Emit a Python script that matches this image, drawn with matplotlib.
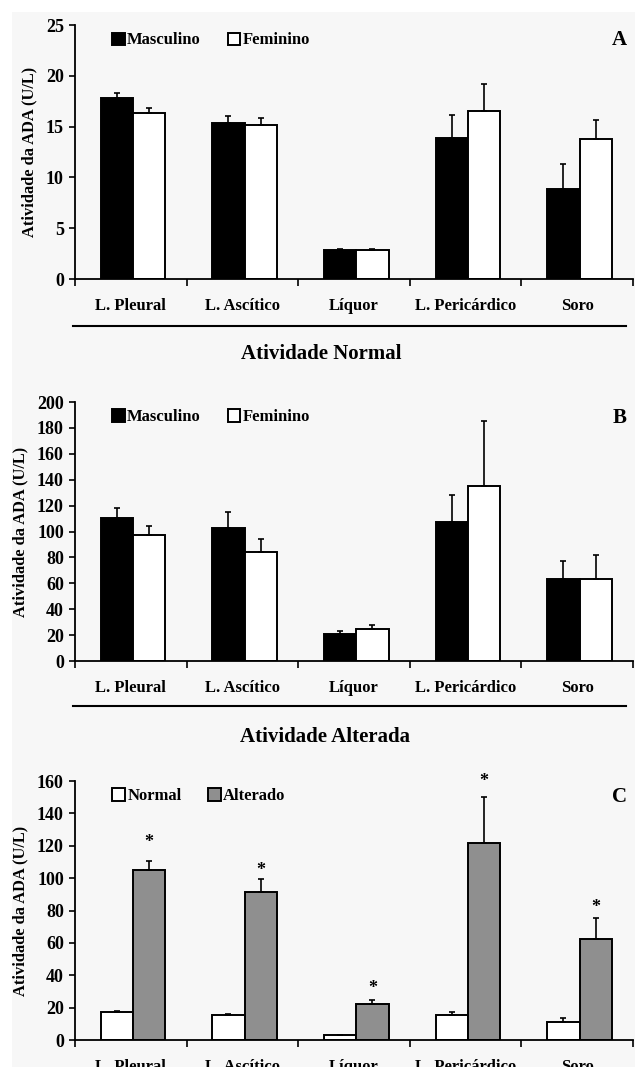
import numpy as np
import matplotlib
matplotlib.use('Agg')
import matplotlib.pyplot as plt
from matplotlib.lines import Line2D
from matplotlib.patches import Rectangle

plt.rcParams['font.family'] = ['Liberation Serif', 'DejaVu Serif']
plt.rcParams['font.weight'] = 'bold'

categories = ['L. Pleural', 'L. Ascítico', 'Líquor', 'L. Pericárdico', 'Soro']

# panel A - atividade normal por sexo
a_masc = [17.8, 15.4, 2.9, 13.9, 8.9]
a_masc_err = [0.5, 0.6, 0.1, 2.2, 2.4]
a_fem = [16.3, 15.2, 2.9, 16.5, 13.8]
a_fem_err = [0.5, 0.7, 0.1, 2.7, 1.9]

# panel B - atividade alterada por sexo
b_masc = [110.5, 103.0, 20.5, 107.5, 63.0]
b_masc_err = [8.0, 12.0, 2.5, 21.0, 14.0]
b_fem = [97.5, 84.5, 24.5, 135.5, 63.0]
b_fem_err = [7.0, 9.5, 3.5, 50.0, 18.5]

# panel C - normal x alterado
c_norm = [17.5, 15.3, 3.0, 15.3, 11.3]
c_norm_err = [0.6, 0.8, 0.0, 2.2, 2.1]
c_alt = [105.0, 91.7, 22.2, 121.7, 62.7]
c_alt_err = [5.6, 7.6, 2.5, 28.4, 12.4]
c_sig = [122, 105, 32, 160, 82]

fig = plt.figure(figsize=(6.35, 10.67), dpi=100, facecolor='white')
fig.patches.append(Rectangle((12 / 635, 0), 1, 1 - 12 / 1067, transform=fig.transFigure,
                             facecolor='#f7f7f7', edgecolor='none', zorder=-10))

x = np.arange(len(categories))
w = 0.29
off = 0.02


def panel(rect, s1, e1, s2, e2, c1, c2, lab1, lab2, ymax, step, letter, labx):
    ax = fig.add_axes(rect)
    ax.set_facecolor('none')
    z = np.zeros(len(s1))
    ekw = dict(ecolor='black', elinewidth=1.2, capsize=2, capthick=1.2)
    ax.bar(x - w / 2 + off, s1, w, color=c1, edgecolor='black', linewidth=1.4,
           yerr=[z, e1], error_kw=ekw, label=lab1)
    ax.bar(x + w / 2 + off, s2, w, color=c2, edgecolor='black', linewidth=1.4,
           yerr=[z, e2], error_kw=ekw, label=lab2)
    ax.set_xlim(-0.5, 4.5)
    ax.set_ylim(0, ymax)
    ax.set_yticks(np.arange(0, ymax + 1, step))
    ax.set_xticks(x)
    ax.set_xticklabels(categories, fontsize=12, fontweight='bold')
    ax.set_xticks(np.arange(-0.5, 5, 1), minor=True)
    ax.tick_params(axis='x', which='major', length=0, pad=14)
    ax.tick_params(axis='x', which='minor', length=5, width=1.2, direction='out')
    ax.tick_params(axis='y', length=4, width=1.2, labelsize=13, pad=4)
    for t in ax.get_yticklabels():
        t.set_fontweight('bold')
    for s in ['top', 'right']:
        ax.spines[s].set_visible(False)
    for s in ['left', 'bottom']:
        ax.spines[s].set_linewidth(1.3)
    ax.set_ylabel('Atividade da ADA (U/L)', fontsize=11.8, fontweight='bold')
    ax.yaxis.set_label_coords(labx, 0.5)
    ax.text(0.975, 0.94, letter, transform=ax.transAxes, fontsize=15, fontweight='bold',
            ha='center', va='center')
    ax.legend(loc='upper left', bbox_to_anchor=(0.04, 1.03), ncol=2, frameon=False,
              handlelength=0.75, handleheight=0.75, handletextpad=0.15, columnspacing=1.6,
              prop=dict(size=12, weight='bold'))
    return ax


axA = panel([0.118, 0.7385, 0.879, 0.238], a_masc, a_masc_err, a_fem, a_fem_err,
            'black', 'white', 'Masculino', 'Feminino', 25, 5, 'A', -0.068)
axB = panel([0.118, 0.3805, 0.879, 0.2427], b_masc, b_masc_err, b_fem, b_fem_err,
            'black', 'white', 'Masculino', 'Feminino', 200, 20, 'B', -0.084)
axC = panel([0.118, 0.0253, 0.879, 0.2427], c_norm, c_norm_err, c_alt, c_alt_err,
            'white', '#8f8f8f', 'Normal', 'Alterado', 160, 20, 'C', -0.083)

for xi, yi in zip(x, c_sig):
    axC.text(xi + w / 2 + off, yi, '*', ha='center', va='center', fontsize=13, fontweight='bold')

# separators and section titles
for yl in [1 - 326 / 1067, 1 - 706 / 1067]:
    fig.add_artist(Line2D([0.115, 0.986], [yl, yl], transform=fig.transFigure,
                          color='black', linewidth=1.5))
fig.text(0.506, 1 - 354 / 1067, 'Atividade Normal', ha='center', va='center',
         fontsize=15, fontweight='bold')
fig.text(0.512, 1 - 737 / 1067, 'Atividade Alterada', ha='center', va='center',
         fontsize=15, fontweight='bold')

fig.savefig('out.png', dpi=100, facecolor=fig.get_facecolor())
